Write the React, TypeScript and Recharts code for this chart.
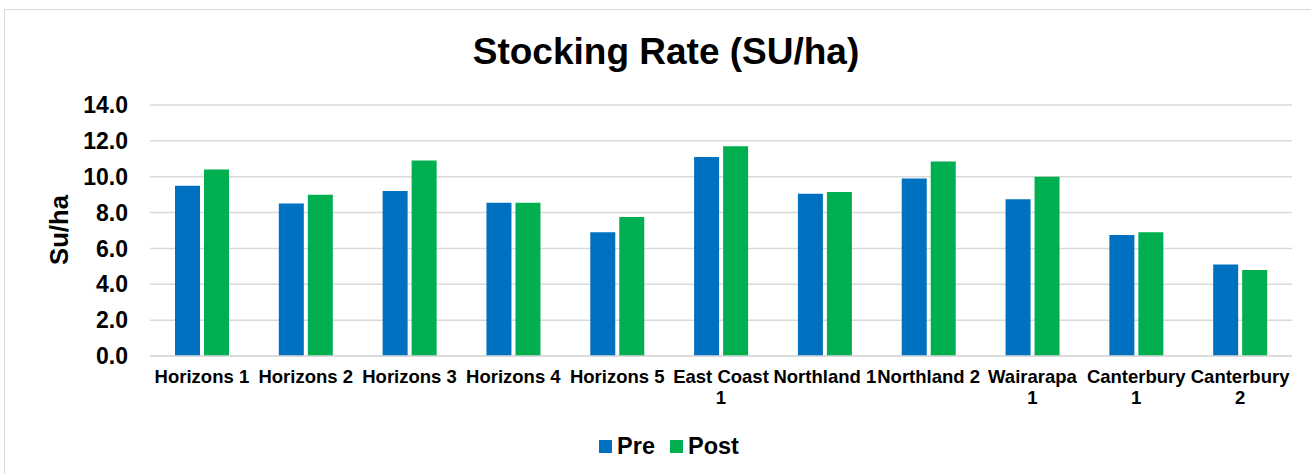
import React from "react";
import { BarChart, Bar, XAxis, YAxis, CartesianGrid, Legend } from "recharts";

const categories = [
  "Horizons 1", "Horizons 2", "Horizons 3", "Horizons 4", "Horizons 5",
  "East Coast 1", "Northland 1", "Northland 2", "Wairarapa 1", "Canterbury 1", "Canterbury 2",
];
const preValues = [9.5, 8.5, 9.2, 8.55, 6.9, 11.1, 9.05, 9.9, 8.75, 6.75, 5.1];
const postValues = [10.4, 9.0, 10.9, 8.55, 7.75, 11.7, 9.15, 10.85, 10.0, 6.9, 4.8];
const yTicks = [0, 2, 4, 6, 8, 10, 12, 14];
const seriesNames = ["Pre", "Post"];
const colors = ["#0070C0", "#00B050"];

const data = categories.map((c, i) => ({ name: c, Pre: preValues[i], Post: postValues[i] }));

const FONT = "'Liberation Sans', Arial, sans-serif";
const X_FONT_SIZE = 18.5;
const WRAP_WIDTH = 103.8;

let ctx: CanvasRenderingContext2D | null = null;
function measure(s: string): number {
  if (!ctx) {
    const c = document.createElement("canvas");
    ctx = c.getContext("2d");
  }
  if (!ctx) return s.length * X_FONT_SIZE * 0.55;
  ctx.font = `bold ${X_FONT_SIZE}px ${FONT}`;
  return ctx.measureText(s).width;
}

function wrap(label: string): string[] {
  const words = label.split(" ");
  const lines: string[] = [];
  let cur = "";
  for (const w of words) {
    const test = cur ? cur + " " + w : w;
    if (cur && measure(test) > WRAP_WIDTH) {
      lines.push(cur);
      cur = w;
    } else {
      cur = test;
    }
  }
  if (cur) lines.push(cur);
  return lines;
}

const XTick = (props: any) => {
  const { x, y, payload } = props;
  const lines = wrap(String(payload.value));
  return (
    <text
      x={x}
      y={y}
      textAnchor="middle"
      style={{ fontFamily: FONT, fontWeight: 700, fontSize: X_FONT_SIZE, fill: "#000" }}
    >
      {lines.map((l, i) => (
        <tspan key={i} x={x} dy={i === 0 ? "0.71em" : 21}>
          {l}
        </tspan>
      ))}
    </text>
  );
};

const LegendContent = () => (
  <div style={{ display: "flex", justifyContent: "center", alignItems: "center", fontFamily: FONT, fontWeight: 700, fontSize: 23.5, color: "#000" }}>
    {seriesNames.map((n, i) => (
      <div key={n} style={{ display: "flex", alignItems: "center", marginRight: i === 0 ? 15 : 0 }}>
        <span style={{ display: "inline-block", width: 13, height: 13, background: colors[i], marginRight: 5 }} />
        <span>{n}</span>
      </div>
    ))}
  </div>
);

export default function App() {
  return (
    <div style={{ position: "absolute", left: 0, top: 0, width: 1311, height: 474, overflow: "hidden", background: "#fff" }}>
      <div style={{ position: "absolute", left: 4, top: 9, width: 1400, height: 600, border: "1.5px solid #d9d9d9", boxSizing: "border-box" }} />
      <div style={{ position: "absolute", left: 0, top: 30, width: 1332, textAlign: "center", fontFamily: FONT, fontWeight: 700, fontSize: 37, color: "#000", lineHeight: "44px" }}>
        Stocking Rate (SU/ha)
      </div>
      <div style={{ position: "absolute", left: 0, top: 0 }}>
        <BarChart
          width={1311}
          height={474}
          data={data}
          margin={{ top: 105, right: 19, bottom: 88, left: 0 }}
          barSize={25}
          barGap={4}
        >
          <CartesianGrid horizontal vertical={false} stroke="#d9d9d9" strokeWidth={1.5} />
          <XAxis
            dataKey="name"
            interval={0}
            tickLine={false}
            tickSize={0}
            tickMargin={14}
            height={30}
            axisLine={{ stroke: "#d9d9d9", strokeWidth: 1.5 }}
            tick={<XTick />}
          />
          <YAxis
            width={150}
            domain={[0, 14]}
            ticks={yTicks}
            tickFormatter={(v: number) => v.toFixed(1)}
            axisLine={false}
            tickLine={false}
            tickSize={0}
            tickMargin={22}
            tick={{ fontFamily: FONT, fontWeight: 700, fontSize: 23, fill: "#000" }}
            label={{
              content: () => (
                <text
                  x={59}
                  y={230}
                  transform="rotate(-90 59 230)"
                  textAnchor="middle"
                  dominantBaseline="central"
                  style={{ fontFamily: FONT, fontWeight: 700, fontSize: 25.7, fill: "#000" }}
                >
                  Su/ha
                </text>
              ),
            }}
          />
          <Legend
            verticalAlign="middle"
            align="center"
            layout="horizontal"
            wrapperStyle={{ top: 433, left: 0, width: 1338 }}
            content={<LegendContent />}
          />
          <Bar dataKey="Pre" fill={colors[0]} isAnimationActive={false} />
          <Bar dataKey="Post" fill={colors[1]} isAnimationActive={false} />
        </BarChart>
      </div>
    </div>
  );
}
